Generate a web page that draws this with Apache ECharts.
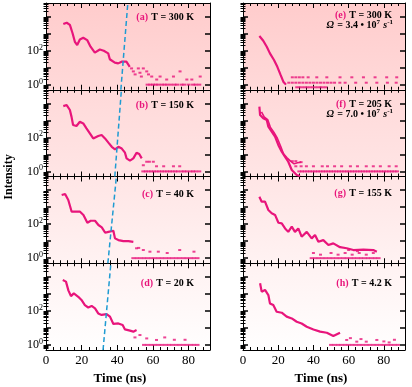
<!DOCTYPE html>
<html><head><meta charset="utf-8">
<script src="https://cdn.jsdelivr.net/npm/echarts@6/dist/echarts.min.js"></script>
<style>html,body{margin:0;padding:0;background:#fff}#c{width:412px;height:387px}</style>
</head><body><div id="c"></div>
<script>
// ---------- data (time in ns, intensity in counts) ----------
const xTickValues = [0, 20, 40, 60, 80];
const yMajorExp = [0, 1, 2, 3, 4];
const yLabelExp = [0, 2];
const FLOOR_COUNT = 1;

// (a) T = 300 K
const decayA = [[9.7,3630],[11.6,4370],[13.4,3240],[14.9,1050],[16.2,331],[17.5,214],[19.0,457],[20.9,575],[23.1,417],[25.0,170],[27.4,76],[30.2,117],[32.4,98],[34.9,69],[35.8,31],[38.6,19.5],[40.5,17.8],[42.4,22.4],[45.1,22.4],[47.0,11.2]];
const tailA = [[48,9],[49,6],[50,4],[51.8,9],[52.7,5],[54.6,9],[56.5,6],[59.3,3],[62.1,2],[64,3],[67.7,2],[71.5,3],[75.2,6],[79,2],[81.8,2],[86.5,3],[53.5,3],[57.5,4]];
const floorA = [57,58.5,60,61.5,63,65,66.5,68,70,72,73.5,76,77.5,80,82.5,84,86];
const dashA = [[42.0,0.5],[45.9,63000]];

// (b) T = 150 K
const decayB = [[9.7,6920],[11.6,7940],[13.4,4070],[14.3,1660],[15.2,537],[17.1,468],[19.0,832],[20.9,661],[22.7,339],[24.6,174],[26.5,87],[29.3,120],[31.2,138],[33.1,87],[35.0,49],[36.9,28],[38.7,20],[40.6,28],[42.5,22],[44.3,12.6],[45.2,5.8],[47.1,4.3],[49.0,5.8],[50.8,12.6],[52.3,10.5],[53.7,5.8]];
const tailB = [[54.6,2.3],[56.5,3.7],[60.2,3.7],[62,2],[58,3.7],[71.5,2],[75,2],[66,2]];
const floorB = [54.6,56,57.5,59,60.5,62,63.5,65,66.5,68,69.5,71,72.5,74,76,77.5,79,81,82.5,84,86];
const dashB = [[38.6,0.5],[42.3,63000]];

// (c) T = 40 K
const decayC = [[8.8,5130],[10.7,5890],[12.5,2630],[14.4,537],[16.3,537],[19.1,537],[21.0,347],[23.2,120],[25.1,158],[27.5,158],[29.4,89],[31.3,65],[33.2,31],[35.0,35],[37.8,41],[38.7,14.5],[40.6,11.5],[43.4,10],[46.2,10],[49.0,9.1]];
const tailC = [[50.8,3.8],[54.6,3],[58.3,2.4],[63,2.4],[75,3],[83,2.4],[52,4],[68,2]];
const floorC = [49,51,53,55,57,59,61,63,65,67,69,71,73,75,77,79,81,83,85];
const dashC = [[34.7,0.5],[39.5,63000]];

// (d) T = 20 K
const decayD = [[9.4,6460],[11.2,5250],[12.6,1550],[14.0,741],[15.6,1070],[18.1,676],[19.9,437],[21.8,219],[23.7,158],[25.6,195],[27.5,141],[29.3,71],[31.2,58],[34.0,65],[35.9,46],[37.8,17],[40.6,18.2],[43.0,14.8],[44.3,8.1],[47.1,6.9],[49.0,6],[50.8,7.4]];
const tailD = [[49.9,2.75],[52.7,3.8],[56.5,2.4],[62,1.95],[66.6,2.75],[72,2],[78,2]];
const floorD = [55,57,59,61,63,65,67,69,71,73,75,77,79,81,83,85];
const dashD = [[32.0,0.5],[36.4,63000]];

// (e) T = 300 K
const decayE = [[9.3,724],[11.5,380],[13.5,170],[15.3,69],[17.6,28],[19.5,11.2],[21.4,3.6],[22.9,1.5],[24.4,1]];
const tailE = [[26,1.3],[28,1.3],[30,1.3],[32,1.3],[34,1.3],[36,1.3],[38,1.3],[40,1.3],[42,1.3],[44,1.3],[46,1.3],[48,1.3],[50,1.3],[52,1.3],[55,1.3],[58,1.3],[64,1.3],[70,1.3],[76,1.3],[82,1.3],[87,1.3],[28,2.7],[30,2.7],[32,2.7],[34,2.7],[37,2.7],[41.9,2.7],[47.6,2.7],[55.1,2.7],[61.8,2.7],[68.4,2.7],[75,2.7],[81.6,2.7],[87.3,2.7],[30.5,0.7],[32,0.7],[33.5,0.7],[35,0.7],[36.5,0.7],[38,0.7],[39.5,0.7],[41,0.7],[42.5,0.7],[44,0.7],[45.5,0.7],[47,0.7]];
const floorE = [];

// (f) T = 205 K
const decayF = [[9.3,6460],[9.7,2040],[11.5,1320],[13.5,1050],[14.4,427],[16.3,219],[18.2,110],[20.1,35],[22.0,14.5],[23.9,7.2],[25.7,3.7],[27.7,1.2],[30.5,0.62],[32.4,0.54]];
const decayF2 = [[10.5,3160],[12.0,1580],[14.0,1120],[15.5,400],[17.5,200],[19.5,89],[21.5,28],[23.0,11],[25.0,6.3],[27.0,4],[29.0,2.8],[31.0,3.2],[33.0,3.5]];
const tailF = [[30,2],[33,2],[36,2],[40,2],[45,2],[48,2],[52,2],[56,2],[61,2],[65,2],[70,2],[74,2],[78,2],[83,2],[87,2],[28,4],[30,4],[33,3.5]];
const floorF = [32,33.5,35,36.5,38,39.5,41,42.5,44,45.5,47,48.5,50,51.5,53,54.5,56,57.5,59,60.5,62,63.5,65,66.5,68,69.5,71,72.5,74,75.5,77,78.5,80,81.5,83,84.5,86,87.5];

// (g) T = 155 K
const decayG = [[9.3,4070],[10.6,2090],[12.5,2090],[14.4,676],[16.3,437],[18.2,347],[20.1,120],[22.0,112],[23.9,56],[25.7,35],[27.7,71],[29.5,35],[31.4,56],[33.3,18.2],[36.2,35],[39.0,14.5],[40.9,23],[42.8,9.1],[45.6,11.5],[48.5,5.9],[51.3,7.4],[55.1,4.4],[58.9,3.8],[62.7,3],[68.4,3.2],[74.0,3],[76.0,2.4]];
const tailG = [[40,2],[44,1.6],[50,2],[54,1.6],[58,2],[62,1.6],[66,2],[70,1.6],[74,2],[60,3],[65,2.6],[72,3]];
const floorG = [39,41,43,45,47,49,51,53,55,57,59,61,63,65,67,69,71,73,75,77];

// (h) T = 4.2 K
const decayH = [[9.7,4170],[10.6,1350],[12.5,1700],[14.4,851],[15.3,275],[17.2,219],[19.1,89],[22.0,78],[24.8,46],[27.7,36],[30.5,23],[33.3,18.2],[36.2,11.7],[40.0,8.1],[43.8,6],[47.6,5.2],[51.3,3.3],[55.1,5.2]];
const tailH = [[58.9,1.95],[64.6,1.55],[70,1.55],[76,1.95],[83,1.4],[86,2],[61,2.5],[67,2.2],[80,1.6]];
const floorH = [50,52,54,56,58,60,62,64,66,68,70,72,74,76,78,80,82,84,86,88];

const panelLetters = ['(a)','(b)','(c)','(d)','(e)','(f)','(g)','(h)'];
const panelTemps = ['T = 300 K','T = 150 K','T = 40 K','T = 20 K','T = 300 K','T = 205 K','T = 155 K','T = 4.2 K'];
const rateMantissa = {4: '3.4', 5: '7.0'};
const rateExp = '7';

// ---------- build ----------
const MAG = '#e8157b';
const DASH = '#1e9bd2';
const SERIF = 'Liberation Serif';
const decays = [decayA,decayB,decayC,decayD,decayE,decayF,decayG,decayH];
const tails = [tailA,tailB,tailC,tailD,tailE,tailF,tailG,tailH];
const floors = [floorA,floorB,floorC,floorD,floorE,floorF,floorG,floorH];
const dashes = [dashA,dashB,dashC,dashD,null,null,null,null];
const extras = {5: decayF2};

const TOP = 3, PH = 86.75;
const colLeft = [46, 243], colWidth = [164, 162];
const yMin = -0.3, yMax = 4.8;
const yMinor = [];
for (let n = -1; n <= 4; n++) for (let k = 2; k <= 9; k++) {
  const v = n + Math.log10(k);
  if (v > yMin && v < yMax) yMinor.push(v);
}
function mix(f) {
  const g = Math.round(204 + 50 * f);
  return 'rgb(255,' + g + ',' + g + ')';
}
const grids = [], xAxes = [], yAxes = [], series = [];
for (let i = 0; i < 8; i++) {
  const col = i < 4 ? 0 : 1, row = i % 4;
  grids.push({
    left: colLeft[col], width: colWidth[col], top: TOP + row * PH, height: PH,
    show: true, borderWidth: 0,
    backgroundColor: new echarts.graphic.LinearGradient(0, 0, 0, 1, [
      {offset: 0, color: mix(row / 4)}, {offset: 1, color: mix((row + 1) / 4)}])
  });
  const lineS = {show: true, onZero: false, lineStyle: {color: '#000', width: 1}};
  ['bottom', 'top'].forEach(pos => {
    xAxes.push({
      type: 'value', gridIndex: i, position: pos, min: 0, max: 92, interval: 20,
      axisLine: lineS,
      axisTick: {show: true, inside: true, length: 5, lineStyle: {color: '#000', width: 1}},
      minorTick: {show: true, splitNumber: 5, length: 3, lineStyle: {color: '#000', width: 1}},
      axisLabel: {show: pos === 'bottom' && row === 3, margin: 4, color: '#000', fontFamily: SERIF, fontSize: 13,
        formatter: v => (xTickValues.indexOf(v) >= 0 ? String(v) : '')},
      splitLine: {show: false}, minorSplitLine: {show: false}
    });
  });
  ['left', 'right'].forEach(pos => {
    yAxes.push({
      type: 'value', gridIndex: i, position: pos, min: yMin, max: yMax,
      axisLine: lineS,
      axisTick: {show: true, inside: true, length: 5, customValues: yMajorExp, lineStyle: {color: '#000', width: 1.5}},
      axisLabel: {show: pos === 'left' && col === 0, customValues: yLabelExp, margin: 3,
        formatter: v => '{b|10}{s|' + Math.round(v) + '}',
        rich: {b: {fontFamily: SERIF, fontSize: 12, color: '#000'},
               s: {fontFamily: SERIF, fontSize: 8, color: '#000', verticalAlign: 'top', padding: [0, 0, 6, 0]}}},
      splitLine: {show: false}
    });
    yAxes.push({
      type: 'value', gridIndex: i, position: pos, min: yMin, max: yMax,
      axisLine: {show: false},
      axisTick: {show: true, inside: true, length: 2.5, customValues: yMinor, lineStyle: {color: '#000', width: 1}},
      axisLabel: {show: false}, splitLine: {show: false}
    });
  });
  const xi = 2 * i, yi = 4 * i;
  const toLog = ([t, v]) => [t, Math.log10(v)];
  series.push({type: 'line', xAxisIndex: xi, yAxisIndex: yi, data: decays[i].map(toLog),
    showSymbol: false, lineStyle: {color: MAG, width: 2.2}, silent: true, z: 3});
  if (extras[i]) series.push({type: 'line', xAxisIndex: xi, yAxisIndex: yi, data: extras[i].map(toLog),
    showSymbol: false, lineStyle: {color: MAG, width: 1.6}, silent: true, z: 3});
  series.push({type: 'scatter', xAxisIndex: xi, yAxisIndex: yi, data: tails[i].map(toLog),
    symbol: 'rect', symbolSize: [3, 2], itemStyle: {color: MAG}, silent: true, z: 3});
  series.push({type: 'scatter', xAxisIndex: xi, yAxisIndex: yi, data: floors[i].map(t => [t, Math.log10(FLOOR_COUNT)]),
    symbol: 'rect', symbolSize: [4, 2], itemStyle: {color: MAG}, silent: true, z: 3});
  if (dashes[i]) series.push({type: 'line', xAxisIndex: xi, yAxisIndex: yi, data: dashes[i].map(toLog),
    showSymbol: false, clip: true, lineStyle: {color: DASH, width: 1.5, type: [5, 3]}, silent: true, z: 4});
}

const graphics = [];
const labelY = [17, 105, 194, 283, 15, 104, 193, 283];
const richLab = {
  p: {fontFamily: SERIF, fontWeight: 'bold', fontSize: 10, fill: MAG, color: MAG},
  k: {fontFamily: SERIF, fontWeight: 'bold', fontSize: 10, fill: '#000', color: '#000'},
  ki: {fontFamily: SERIF, fontWeight: 'bold', fontStyle: 'italic', fontSize: 10, color: '#000'},
  s: {fontFamily: SERIF, fontWeight: 'bold', fontSize: 7, color: '#000', verticalAlign: 'top', padding: [0, 0, 4, 0]}
};
for (let i = 0; i < 8; i++) {
  const col = i < 4 ? 0 : 1;
  graphics.push({type: 'text', x: col === 0 ? 194 : 392, y: labelY[i], z: 10,
    style: {text: '{p|' + panelLetters[i] + '} {k|' + panelTemps[i] + '}', rich: richLab, align: 'right', verticalAlign: 'middle'}});
  if (rateMantissa[i]) graphics.push({type: 'text', x: 393, y: labelY[i] + 10, z: 10,
    style: {text: '{ki|Ω} {k|= ' + rateMantissa[i] + ' • 10}{s|' + rateExp + '} {ki|s}{s|-1}', rich: richLab, align: 'right', verticalAlign: 'middle'}});
}
graphics.push({type: 'text', x: 9, y: 177, rotation: Math.PI / 2,
  style: {text: 'Intensity', font: 'bold 12px "Liberation Serif"', fill: '#000', align: 'center', verticalAlign: 'middle'}});
graphics.push({type: 'text', x: 120, y: 379,
  style: {text: 'Time (ns)', font: 'bold 13px "Liberation Serif"', fill: '#000', align: 'center', verticalAlign: 'middle'}});
graphics.push({type: 'text', x: 321, y: 379,
  style: {text: 'Time (ns)', font: 'bold 13px "Liberation Serif"', fill: '#000', align: 'center', verticalAlign: 'middle'}});

const chart = echarts.init(document.getElementById('c'), null, {renderer: 'canvas'});
chart.setOption({animation: false, grid: grids, xAxis: xAxes, yAxis: yAxes, series: series, graphic: graphics});
</script></body></html>
